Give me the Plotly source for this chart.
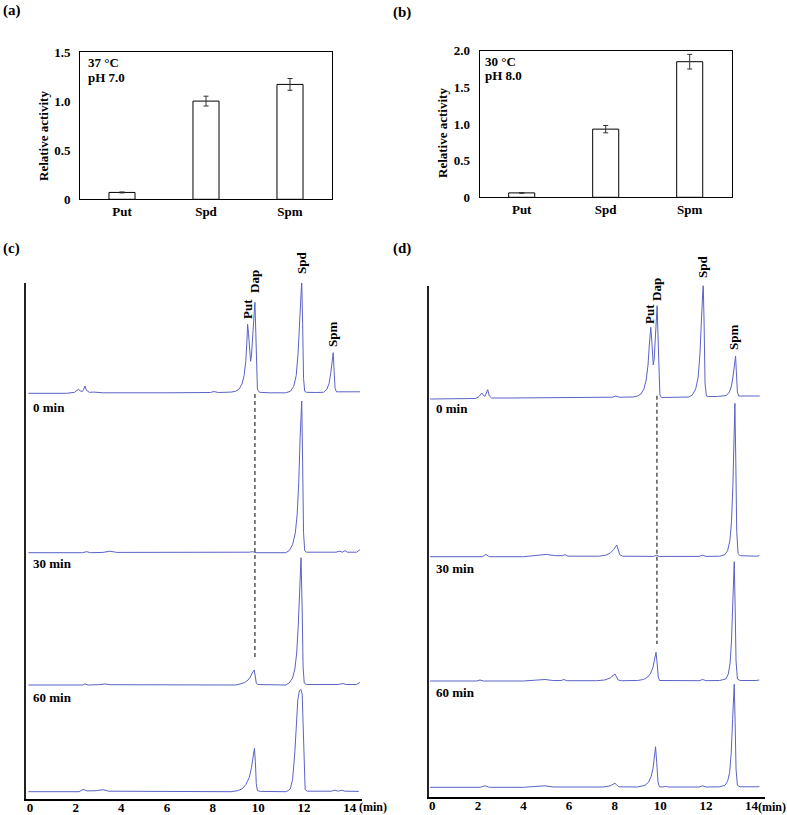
import plotly.graph_objects as go

# ---------------- data ----------------
categories = ["Put", "Spd", "Spm"]
activity_a = [0.07, 1.00, 1.17]
error_a = [0.005, 0.05, 0.06]
activity_b = [0.06, 0.93, 1.85]
error_b = [0.005, 0.05, 0.10]
ytick_a = [0, 0.5, 1.0, 1.5]
ytext_a = ["0", "0.5", "1.0", "1.5"]
ytick_b = [0, 0.5, 1.0, 1.5, 2.0]
ytext_b = ["0", "0.5", "1.0", "1.5", "2.0"]
time_ticks = [0, 2, 4, 6, 8, 10, 12, 14]
time_labels = ["0 min", "30 min", "60 min"]
dap_time = 9.85

# chromatograms: (retention time [min], signal [a.u.])
c_standard = [(-0.07, 0), (1.6, 0), (1.95, 1), (2.05, 2.5), (2.12, 4), (2.2, 2.5), (2.29, 1.7),
              (2.35, 4), (2.41, 7.3), (2.47, 3), (2.6, 1), (2.8, 1.2), (3.2, 0.5), (6.0, 0.5),
              (7.9, 0.8), (8.05, 1.8), (8.25, 0.8), (8.8, 1.2), (9.0, 2), (9.15, 4), (9.28, 9),
              (9.38, 18), (9.45, 32), (9.5, 52), (9.53, 69), (9.57, 60), (9.62, 40), (9.66, 32),
              (9.7, 38), (9.75, 58), (9.8, 80), (9.85, 91), (9.89, 60), (9.92, 20), (9.96, 4),
              (10.05, 1), (10.5, 0.5), (11.2, 0.5), (11.4, 2), (11.55, 7), (11.66, 18), (11.74, 40),
              (11.8, 70), (11.86, 100), (11.9, 112.6), (11.94, 70), (11.98, 15), (12.03, 2),
              (12.1, 1), (12.5, 0.8), (12.85, 1), (13.0, 4), (13.1, 10), (13.17, 20), (13.23, 33),
              (13.28, 40.6), (13.32, 22), (13.36, 5), (13.42, 1.5), (13.55, 1.5), (14.0, 1),
              (14.45, 1.5)]
c_0min = [(-0.07, 0), (2.3, 0), (2.48, 1), (2.65, 0), (3.2, 0.3), (3.5, 1.5), (3.8, 0.3),
          (9.0, 0), (9.6, 0.5), (9.75, 1), (9.9, 0), (11.2, 0), (11.35, 2), (11.5, 8),
          (11.62, 20), (11.7, 38), (11.77, 70), (11.83, 115), (11.9, 151.7), (11.94, 90),
          (11.98, 20), (12.03, 2), (12.1, 0.5), (13.4, 0.5), (13.57, 1.5), (13.68, 0.5),
          (13.8, 2), (13.9, 0.5), (14.3, 0.5), (14.45, 3)]
c_30min = [(-0.07, 0), (2.3, 0), (2.4, 1), (2.55, 0), (3.0, 0.3), (3.3, 1), (3.5, 0.3),
           (9.0, 0), (9.2, 1), (9.4, 2.5), (9.55, 5), (9.65, 8), (9.73, 12), (9.82, 15),
           (9.87, 8), (9.91, 2), (9.97, 0.5), (11.2, 0), (11.35, 2), (11.5, 7), (11.6, 16),
           (11.68, 32), (11.75, 60), (11.81, 100), (11.87, 127.3), (11.92, 75), (11.96, 18),
           (12.01, 2), (12.1, 0.5), (13.5, 0.5), (13.7, 1.5), (13.85, 0.5), (14.3, 0.5),
           (14.45, 2.5)]
c_60min = [(-0.07, 0), (2.15, 0), (2.33, 2.3), (2.5, 0.8), (2.9, 1), (3.2, 2), (3.45, 0.5),
           (8.8, 0), (9.1, 1), (9.3, 3), (9.45, 7), (9.6, 14), (9.7, 24), (9.77, 35),
           (9.83, 43.4), (9.87, 30), (9.91, 8), (9.96, 1), (10.1, 0.3), (11.2, 0), (11.3, 1),
           (11.4, 3), (11.5, 12), (11.6, 40), (11.67, 70), (11.73, 92), (11.8, 101),
           (11.86, 102.4), (11.92, 98), (11.97, 60), (12.01, 15), (12.05, 2), (12.15, 0.5),
           (13.2, 0.5), (13.35, 1.5), (13.5, 0.5), (13.65, 1.5), (13.8, 0.5), (14.4, 0.3)]

d_standard = [(-0.1, 0), (1.9, 0.5), (2.05, 2.5), (2.17, 6), (2.25, 3.5), (2.31, 2.7), (2.37, 6),
              (2.43, 9.3), (2.5, 3), (2.6, 1), (3.5, 1), (6.0, 1.5), (7.9, 1.8), (8.05, 3),
              (8.2, 1.8), (8.8, 2), (9.0, 3), (9.15, 5), (9.28, 10), (9.38, 19), (9.46, 34),
              (9.52, 55), (9.58, 71.7), (9.62, 60), (9.66, 42), (9.69, 34), (9.73, 40),
              (9.78, 62), (9.82, 82), (9.86, 93.3), (9.9, 62), (9.94, 20), (9.98, 4),
              (10.05, 1.5), (10.5, 1.5), (11.25, 2), (11.4, 4), (11.55, 10), (11.66, 22),
              (11.74, 46), (11.8, 78), (11.84, 100), (11.88, 116.3), (11.92, 75), (11.96, 16),
              (12.02, 3), (12.1, 2.5), (12.5, 2.5), (12.9, 3.5), (13.03, 7), (13.12, 13),
              (13.19, 23), (13.25, 36), (13.3, 43), (13.34, 24), (13.38, 7), (13.44, 3),
              (14.0, 3), (14.36, 3)]
d_0min = [(-0.1, 0), (2.2, 0), (2.35, 2.3), (2.5, 0), (4.0, 0), (4.6, 1.5), (5.0, 2.3),
          (5.4, 1), (5.7, 1), (5.82, 2), (5.95, 0.5), (7.3, 0.5), (7.6, 1.5), (7.8, 3.5),
          (7.95, 7), (8.09, 11.7), (8.15, 7), (8.22, 2), (8.35, 0.5), (9.7, 0.3), (9.84, 1.5),
          (9.95, 0.3), (11.7, 0.3), (11.85, 1.5), (12.0, 0.3), (12.6, 0.5), (12.83, 2),
          (12.95, 6), (13.05, 16), (13.12, 35), (13.18, 70), (13.23, 115), (13.27, 153.4),
          (13.31, 95), (13.35, 25), (13.41, 3), (13.5, 1), (14.2, 0.5), (14.34, 1)]
d_30min = [(-0.1, 0), (1.95, 0), (2.09, 1), (2.25, 0), (4.0, 0), (4.6, 1), (4.94, 1.5),
           (5.3, 0.5), (5.65, 0.5), (5.77, 1.5), (5.9, 0.3), (7.2, 0.3), (7.55, 1), (7.8, 3),
           (7.92, 5), (8.01, 7), (8.08, 4), (8.15, 1), (8.3, 0.3), (9.0, 0.5), (9.26, 1.5),
           (9.45, 4), (9.58, 8), (9.68, 14), (9.75, 22), (9.81, 28.7), (9.86, 18), (9.91, 4),
           (9.97, 0.5), (10.3, 0.5), (11.7, 0.3), (11.86, 1.5), (12.0, 0.3), (12.6, 0.5),
           (12.87, 2), (12.98, 7), (13.06, 18), (13.12, 40), (13.17, 75), (13.21, 105),
           (13.24, 119.3), (13.28, 75), (13.32, 20), (13.38, 2), (13.5, 0.5), (14.2, 0.5),
           (14.34, 1)]
d_60min = [(-0.1, 0), (2.1, 0), (2.31, 1.5), (2.5, 0), (4.0, 0), (4.6, 1), (4.94, 1.5),
           (5.3, 0.3), (7.5, 0.3), (7.8, 1.5), (7.92, 3), (8.01, 4), (8.08, 2.5), (8.18, 0.5),
           (9.0, 0.3), (9.33, 2), (9.48, 5), (9.6, 11), (9.68, 19), (9.74, 30), (9.79, 40.6),
           (9.84, 25), (9.9, 5), (9.96, 0.5), (10.1, 0.3), (10.23, 1), (10.35, 0.3),
           (11.7, 0.3), (11.86, 1.5), (12.0, 0.3), (12.6, 0.5), (12.83, 2), (12.95, 6),
           (13.04, 15), (13.11, 35), (13.17, 68), (13.21, 92), (13.24, 103), (13.28, 65),
           (13.32, 18), (13.38, 2), (13.5, 0.5), (14.2, 0.5), (14.34, 0.8)]

# ---------------- layout helpers ----------------
W, H = 787, 815
FONT = "Liberation Serif"
BLACK = "black"
LINE_BLUE = "#5a62c6"


def fx(px):
    return px / W


def fy(py):
    return 1 - py / H


fig = go.Figure()

# bar panels
for vals, errs, xa, ya in [(activity_a, error_a, "x", "y"), (activity_b, error_b, "x2", "y2")]:
    fig.add_trace(go.Bar(
        x=categories, y=vals, width=0.31, xaxis=xa, yaxis=ya,
        marker=dict(color="white", line=dict(color=BLACK, width=1)),
        error_y=dict(type="data", array=errs, color="#333333", thickness=1, width=2.5),
        hoverinfo="skip"))

# chromatograms (offsets are vertical stacking positions)
c_offsets = [405.7, 246.3, 114.0, 7.3]
d_offsets = [397.7, 240.0, 115.7, 9.4]
for series, off in zip([c_standard, c_0min, c_30min, c_60min], c_offsets):
    fig.add_trace(go.Scatter(x=[p[0] for p in series], y=[p[1] + off for p in series],
                             mode="lines", line=dict(color=LINE_BLUE, width=1),
                             xaxis="x3", yaxis="y3", hoverinfo="skip"))
for series, off in zip([d_standard, d_0min, d_30min, d_60min], d_offsets):
    fig.add_trace(go.Scatter(x=[p[0] for p in series], y=[p[1] + off for p in series],
                             mode="lines", line=dict(color=LINE_BLUE, width=1),
                             xaxis="x4", yaxis="y4", hoverinfo="skip"))

tickfont = dict(family=FONT, size=13, color=BLACK, weight="bold")

bar_x = dict(showline=True, mirror=True, linecolor=BLACK, linewidth=1, ticks="",
             tickfont=tickfont, showgrid=False, zeroline=False, ticklabelstandoff=0,
             automargin=False)
bar_y = dict(showline=True, mirror=True, linecolor=BLACK, linewidth=1, ticks="",
             tickfont=tickfont, showgrid=False, zeroline=False, ticklabelstandoff=6,
             automargin=False)
chr_x = dict(showline=True, linecolor=BLACK, linewidth=1.5, ticks="", tickvals=time_ticks,
             tickfont=tickfont, showgrid=False, zeroline=False, ticklabelstandoff=-4,
             automargin=False)
chr_y = dict(showline=True, linecolor="#222222", linewidth=1.5, ticks="", showticklabels=False,
             showgrid=False, zeroline=False, automargin=False)

fig.update_layout(
    width=W, height=H, autosize=False,
    margin=dict(l=0, r=0, t=0, b=0, pad=0, autoexpand=False),
    paper_bgcolor="white", plot_bgcolor="white", showlegend=False,
    font=dict(family=FONT, color=BLACK),
    xaxis=dict(bar_x, domain=[fx(80), fx(332)], anchor="y"),
    yaxis=dict(bar_y, domain=[fy(199.3), fy(52)], anchor="x", range=[0, 1.5],
               tickvals=ytick_a, ticktext=ytext_a),
    xaxis2=dict(bar_x, domain=[fx(479.7), fx(731.7)], anchor="y2"),
    yaxis2=dict(bar_y, domain=[fy(197.3), fy(50.7)], anchor="x2", range=[0, 2.0],
                tickvals=ytick_b, ticktext=ytext_b),
    xaxis3=dict(chr_x, domain=[fx(26), fx(362)], anchor="y3", range=[-0.175, 14.54]),
    yaxis3=dict(chr_y, domain=[fy(799), fy(283)], anchor="x3", range=[0, 516]),
    xaxis4=dict(chr_x, domain=[fx(429), fx(765)], anchor="y4", range=[-0.145, 14.59]),
    yaxis4=dict(chr_y, domain=[fy(796.7), fy(285.7)], anchor="x4", range=[0, 511]),
)

# dashed marker lines at the Dap retention time
fig.add_shape(type="line", xref="x3", yref="paper", x0=dap_time, x1=dap_time,
              y0=fy(394), y1=fy(660), line=dict(color="#555555", width=1.5, dash="4px,3px"))
fig.add_shape(type="line", xref="x4", yref="paper", x0=dap_time, x1=dap_time,
              y0=fy(395.7), y1=fy(644), line=dict(color="#555555", width=1.5, dash="4px,3px"))


def ann(text, px, py, size=13, xanchor="center", angle=0, yanchor="middle"):
    fig.add_annotation(text="<b>%s</b>" % text, x=fx(px), y=fy(py), xref="paper", yref="paper",
                       showarrow=False, xanchor=xanchor, yanchor=yanchor, textangle=angle,
                       font=dict(family=FONT, size=size, color=BLACK))


# panel letters
ann("(a)", 1, 10, size=15, xanchor="left")
ann("(b)", 391, 12, size=15, xanchor="left")
ann("(c)", 1, 248, size=15, xanchor="left")
ann("(d)", 391, 248, size=15, xanchor="left")

# bar panel texts
ann("Relative activity", 43, 136, angle=-90)
ann("Relative activity", 443, 133, angle=-90)
ann("37 °C", 86, 62, xanchor="left")
ann("pH 7.0", 86, 77, xanchor="left")
ann("30 °C", 483, 61, xanchor="left")
ann("pH 8.0", 483, 75, xanchor="left")

# chromatogram texts
for (lbl, px, py) in [("Put", 247, 309), ("Dap", 254, 282), ("Spd", 301, 263), ("Spm", 332, 335),
                      ("Put", 649, 314), ("Dap", 657, 290), ("Spd", 702, 267), ("Spm", 733, 338)]:
    ann(lbl, px, py, angle=-90)
for lbl, py in zip(time_labels, [407, 563, 697]):
    ann(lbl, 31, py, xanchor="left")
for lbl, py in zip(time_labels, [408, 568, 692]):
    ann(lbl, 434, py, xanchor="left")
ann("(min)", 357, 807, size=12, xanchor="left")
ann("(min)", 756, 807, size=12, xanchor="left")

# remove the default page margin so the figure sits at the window's top-left corner
fig.write_html("out.html", config={"displayModeBar": False},
               post_script="document.body.style.margin='0';")
